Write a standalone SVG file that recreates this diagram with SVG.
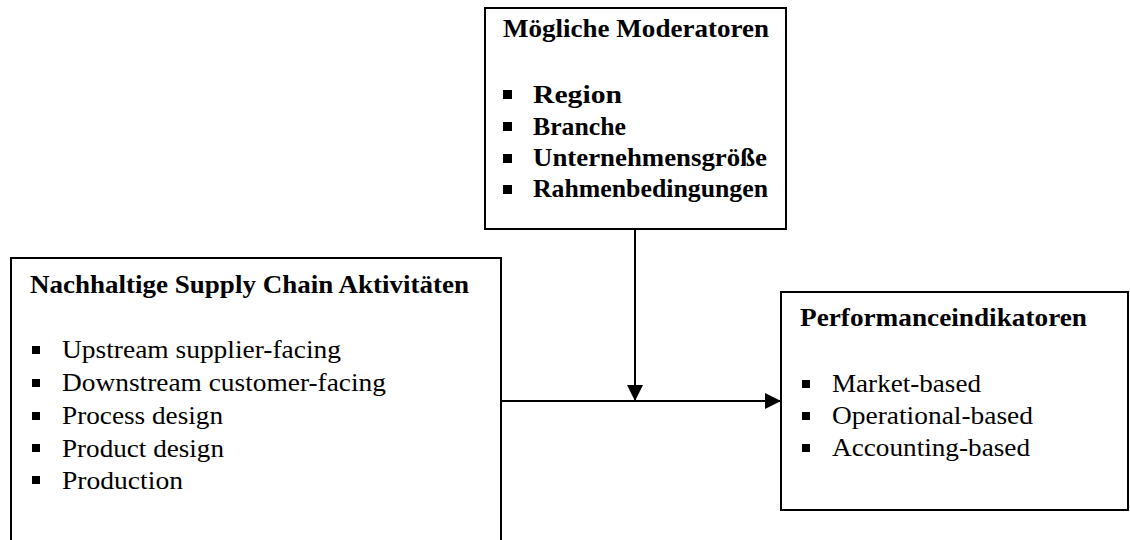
<svg xmlns="http://www.w3.org/2000/svg" width="1130" height="540" viewBox="0 0 1130 540">
<style>
.box{fill:#fff;stroke:#000;stroke-width:2}
.t{font-family:"Times New Roman","Liberation Serif",Times,serif;font-size:25px;fill:#000}
.b{font-weight:bold}
.bul{fill:#000}
.con{stroke:#000;stroke-width:2;fill:none}
</style>
<defs>
<marker id="ah" viewBox="0 0 16 16" refX="16" refY="8" markerWidth="16" markerHeight="16" markerUnits="userSpaceOnUse" orient="auto">
<path d="M0,0 L16,8 L0,16 Z" fill="#000"/>
</marker>
</defs>
<g id="moderatoren">
<rect class="box" x="485" y="8" width="301" height="221"/>
<text class="t b" x="503" y="37" textLength="266" lengthAdjust="spacingAndGlyphs">Mögliche Moderatoren</text>
<rect class="bul" x="503" y="90" width="9" height="9"/>
<text class="t b" x="533" y="103" textLength="89" lengthAdjust="spacingAndGlyphs">Region</text>
<rect class="bul" x="503" y="122" width="9" height="9"/>
<text class="t b" x="533" y="135" textLength="93" lengthAdjust="spacingAndGlyphs">Branche</text>
<rect class="bul" x="503" y="154" width="9" height="9"/>
<text class="t b" x="533" y="166" textLength="234" lengthAdjust="spacingAndGlyphs">Unternehmensgröße</text>
<rect class="bul" x="503" y="185" width="9" height="9"/>
<text class="t b" x="533" y="197" textLength="235" lengthAdjust="spacingAndGlyphs">Rahmenbedingungen</text>
</g>
<g id="aktivitaeten">
<path class="box" d="M11,545 L11,258 L501,258 L501,545"/>
<text class="t b" x="30" y="293" textLength="439" lengthAdjust="spacingAndGlyphs">Nachhaltige Supply Chain Aktivitäten</text>
<rect class="bul" x="32" y="346" width="8" height="8"/>
<text class="t" x="62" y="358" textLength="279" lengthAdjust="spacingAndGlyphs">Upstream supplier-facing</text>
<rect class="bul" x="32" y="379" width="8" height="8"/>
<text class="t" x="62" y="391" textLength="324" lengthAdjust="spacingAndGlyphs">Downstream customer-facing</text>
<rect class="bul" x="32" y="412" width="8" height="8"/>
<text class="t" x="62" y="424" textLength="161" lengthAdjust="spacingAndGlyphs">Process design</text>
<rect class="bul" x="32" y="444" width="8" height="8"/>
<text class="t" x="62" y="457" textLength="162" lengthAdjust="spacingAndGlyphs">Product design</text>
<rect class="bul" x="32" y="476" width="8" height="8"/>
<text class="t" x="62" y="489" textLength="121" lengthAdjust="spacingAndGlyphs">Production</text>
</g>
<g id="performance">
<rect class="box" x="781" y="292" width="347" height="218"/>
<text class="t b" x="800" y="326" textLength="287" lengthAdjust="spacingAndGlyphs">Performanceindikatoren</text>
<rect class="bul" x="802" y="380" width="8" height="8"/>
<text class="t" x="832" y="392" textLength="149" lengthAdjust="spacingAndGlyphs">Market-based</text>
<rect class="bul" x="802" y="412" width="8" height="8"/>
<text class="t" x="832" y="424" textLength="201" lengthAdjust="spacingAndGlyphs">Operational-based</text>
<rect class="bul" x="802" y="444" width="8" height="8"/>
<text class="t" x="832" y="456" textLength="198" lengthAdjust="spacingAndGlyphs">Accounting-based</text>
</g>
<g id="connectors">
<line class="con" x1="501" y1="401" x2="781" y2="401" marker-end="url(#ah)"/>
<line class="con" x1="635" y1="229" x2="635" y2="401" marker-end="url(#ah)"/>
</g>
</svg>
